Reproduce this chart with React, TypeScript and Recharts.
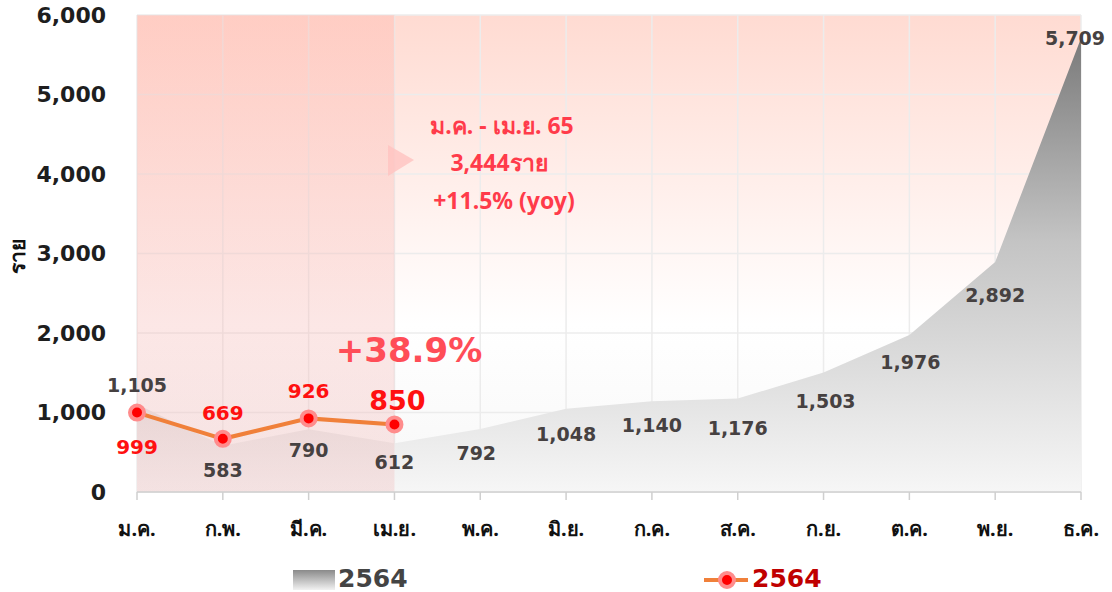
import React from "react";
import {
  ComposedChart,
  Area,
  Line,
  XAxis,
  YAxis,
  CartesianGrid,
  ReferenceArea,
  LabelList,
} from "recharts";

const months = ["ม.ค.", "ก.พ.", "มี.ค.", "เม.ย.", "พ.ค.", "มิ.ย.", "ก.ค.", "ส.ค.", "ก.ย.", "ต.ค.", "พ.ย.", "ธ.ค."];
const cases2564 = [1105, 583, 790, 612, 792, 1048, 1140, 1176, 1503, 1976, 2892, 5709];
const cases2565 = [999, 669, 926, 850];
const yTicks = [0, 1000, 2000, 3000, 4000, 5000, 6000];

const data = months.map((m, i) => ({
  month: m,
  prev: cases2564[i],
  curr: i < cases2565.length ? cases2565[i] : null,
}));

const FONT = "'Noto Sans', sans-serif";
const NUM = "'DejaVu Sans', sans-serif";

// offsets for the grey labels (dx, dy from the point)
const prevOffsets = [
  [0, -19], [0, 24], [0, 21], [0, 19], [-4, 24], [0, 25],
  [0, 24], [0, 29], [2, 28], [1, 27], [0, 33], [-6, 0],
];
const currOffsets = [[0, 34], [0, -26], [0, -27], [3, -24]];

const fmt = (v: number) => v.toLocaleString("en-US");

function PrevLabel(props: any) {
  const { x, y, value, index } = props;
  const [dx, dy] = prevOffsets[index] || [0, 24];
  return (
    <text
      x={x + dx}
      y={y + dy}
      textAnchor="middle"
      dominantBaseline="central"
      fontFamily={NUM}
      fontWeight={700}
      fontSize={19}
      fill="#464141"
    >
      {fmt(value)}
    </text>
  );
}

function CurrLabel(props: any) {
  const { x, y, value, index } = props;
  if (value == null) return null;
  const [dx, dy] = currOffsets[index] || [0, -26];
  const last = index === cases2565.length - 1;
  return (
    <text
      x={x + dx}
      y={y + dy}
      textAnchor="middle"
      dominantBaseline="central"
      fontFamily={NUM}
      fontWeight={700}
      fontSize={last ? 27 : 20}
      fill="#ff1010"
    >
      {fmt(value)}
    </text>
  );
}

export default function App() {
  return (
    <div style={{ position: "absolute", left: 0, top: 0, width: 1112, height: 592, background: "#fff" }}>
      <ComposedChart
        width={1112}
        height={592}
        data={data}
        margin={{ top: 15, right: 31, bottom: 0, left: 0 }}
      >
        <defs>
          <linearGradient id="bgGrad" x1="0" y1="0" x2="0" y2="1">
            <stop offset="0%" stopColor="#ffdbd2" />
            <stop offset="65%" stopColor="#ffffff" />
            <stop offset="100%" stopColor="#f7f7f7" />
          </linearGradient>
          <linearGradient id="pinkGrad" x1="0" y1="0" x2="0" y2="1">
            <stop offset="0%" stopColor="#ffb4aa" stopOpacity={0.36} />
            <stop offset="100%" stopColor="#f0b4b4" stopOpacity={0.3} />
          </linearGradient>
          <linearGradient id="grayGrad" x1="0" y1="0" x2="0" y2="1">
            <stop offset="0%" stopColor="#7a7a7a" />
            <stop offset="45%" stopColor="#c4c4c4" />
            <stop offset="100%" stopColor="#f6f6f6" />
          </linearGradient>
        </defs>
        <CartesianGrid stroke="#ececec" strokeWidth={1.5} fill="url(#bgGrad)" />
        <XAxis
          dataKey="month"
          scale="point"
          padding={{ left: 0, right: 0 }}
          height={100}
          tickSize={8}
          tickMargin={22}
          axisLine={{ stroke: "#cfcfcf", strokeWidth: 1.5 }}
          tickLine={{ stroke: "#cfcfcf", strokeWidth: 1.5 }}
          tick={{ fontFamily: FONT, fontWeight: 700, fontSize: 20, fill: "#111" }}
          interval={0}
        />
        <YAxis
          width={137}
          domain={[0, 6000]}
          ticks={yTicks}
          axisLine={false}
          tickLine={false}
          tickMargin={25}
          tickFormatter={fmt}
          tick={{ fontFamily: NUM, fontWeight: 700, fontSize: 22, fill: "#1e1e1e" }}
        />
        <Area
          type="linear"
          dataKey="prev"
          stroke="none"
          fill="url(#grayGrad)"
          fillOpacity={1}
          isAnimationActive={false}
        >
          <LabelList dataKey="prev" content={<PrevLabel />} />
        </Area>
        <ReferenceArea
          x1="ม.ค."
          x2="เม.ย."
          y1={0}
          y2={6000}
          fill="url(#pinkGrad)"
          fillOpacity={1}
          stroke="none"
        />
        <Line
          type="linear"
          dataKey="curr"
          stroke="#f0803a"
          strokeWidth={4}
          dot={{ r: 7, fill: "#ff0000", stroke: "#ff8c8c", strokeWidth: 4 }}
          activeDot={false}
          connectNulls={false}
          isAnimationActive={false}
        >
          <LabelList dataKey="curr" content={<CurrLabel />} />
        </Line>
      </ComposedChart>

      <svg
        width={1112}
        height={592}
        style={{ position: "absolute", left: 0, top: 0, pointerEvents: "none" }}
      >
        <defs>
          <linearGradient id="legGray" x1="0" y1="0" x2="0" y2="1">
            <stop offset="0%" stopColor="#8a8a8a" />
            <stop offset="100%" stopColor="#f2f2f2" />
          </linearGradient>
        </defs>
        <text
          transform="translate(17,256) rotate(-90)"
          textAnchor="middle"
          dominantBaseline="central"
          fontFamily={FONT}
          fontWeight={700}
          fontSize={21}
          fill="#111"
        >
          ราย
        </text>
        <polygon points="388,145 414,160 388,176" fill="#ffc3c0" opacity={0.8} />
        <g fontFamily={FONT} fontWeight={700} fill="#ff3b4a" textAnchor="middle">
          <text x={502} y={125} fontSize={23} dominantBaseline="central">ม.ค. - เม.ย. 65</text>
          <text x={499} y={162} fontSize={23} dominantBaseline="central">3,444ราย</text>
          <text x={504} y={200} fontSize={23} dominantBaseline="central">+11.5% (yoy)</text>
        </g>
        <text
          x={409}
          y={350}
          fontFamily={NUM}
          fontWeight={700}
          fontSize={34}
          fill="#ff4d57"
          textAnchor="middle"
          dominantBaseline="central"
        >
          +38.9%
        </text>
        <rect x={293} y={570} width={42} height={20} fill="url(#legGray)" />
        <text x={338} y={578} fontFamily={NUM} fontWeight={700} fontSize={25} fill="#444" dominantBaseline="central">
          2564
        </text>
        <line x1={704} y1={580} x2={748} y2={580} stroke="#f0803a" strokeWidth={4} />
        <circle cx={727} cy={580} r={7} fill="#ff0000" stroke="#ff8c8c" strokeWidth={4} />
        <text x={752} y={578} fontFamily={NUM} fontWeight={700} fontSize={25} fill="#c00000" dominantBaseline="central">
          2564
        </text>
      </svg>
    </div>
  );
}
